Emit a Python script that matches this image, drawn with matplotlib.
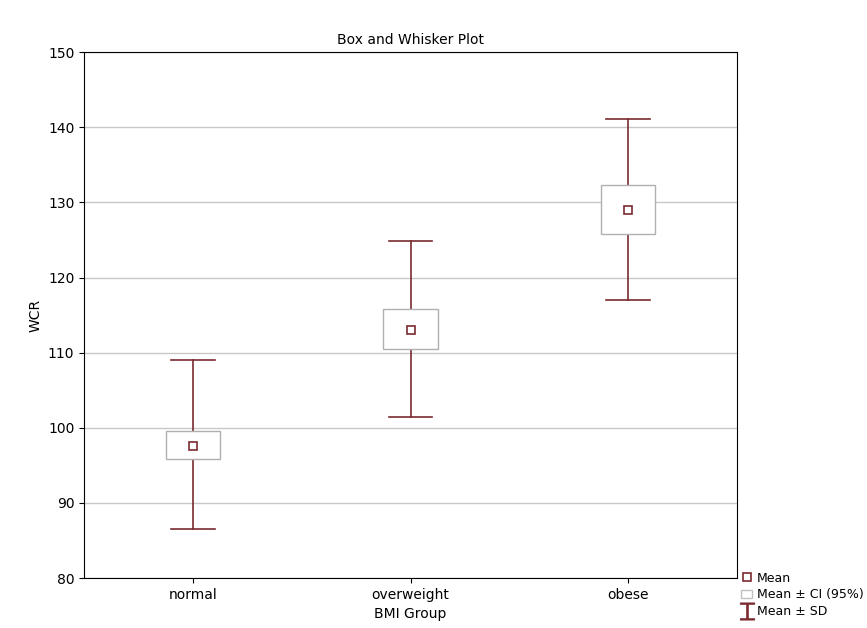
import matplotlib.pyplot as plt
from matplotlib.lines import Line2D
from matplotlib.patches import Patch

groups = ['normal', 'overweight', 'obese']
means = [97.6, 113.0, 129.0]
ci_low = [95.8, 110.5, 125.8]
ci_high = [99.6, 115.8, 132.3]
sd_low = [86.5, 101.4, 117.0]
sd_high = [109.0, 124.8, 141.1]

red = '#7a2a30'
fig = plt.figure(figsize=(8.67, 6.28), dpi=100)
ax = fig.add_axes([0.097, 0.0796, 0.753, 0.8374])

for i, g in enumerate(groups):
    x = i + 1
    ax.plot([x, x], [sd_low[i], sd_high[i]], color=red, lw=1.2, zorder=2)
    ax.plot([x - 0.1, x + 0.1], [sd_low[i]] * 2, color=red, lw=1.2, zorder=2)
    ax.plot([x - 0.1, x + 0.1], [sd_high[i]] * 2, color=red, lw=1.2, zorder=2)
    ax.add_patch(plt.Rectangle((x - 0.125, ci_low[i]), 0.25, ci_high[i] - ci_low[i],
                               facecolor='white', edgecolor='#b0b0b0', lw=1, zorder=3))
    ax.plot(x, means[i], marker='s', ms=6, mfc='white', mec=red, mew=1.2, zorder=4)

ax.set_xlim(0.5, 3.5)
ax.set_ylim(80, 150)
ax.set_xticks([1, 2, 3])
ax.set_xticklabels(groups)
ax.set_yticks(range(80, 151, 10))
ax.yaxis.grid(True, color='#c8c8c8', lw=1)
ax.set_axisbelow(True)
ax.tick_params(labelsize=10, direction='out')
ax.set_xlabel('BMI Group', fontsize=10)
ax.set_ylabel('WCR', fontsize=10)
ax.set_title('Box and Whisker Plot', fontsize=10)

handles = [Line2D([], [], marker='s', ls='', ms=6, mfc='white', mec=red, mew=1.2),
           Patch(facecolor='white', edgecolor='#c0c0c0'),
           Line2D([], [], marker='$\u2336$', ls='', ms=12, color=red)]
fig.legend(handles, ['Mean', 'Mean ± CI (95%)', 'Mean ± SD'], loc='lower left',
           bbox_to_anchor=(0.843, 0.0), frameon=False, fontsize=9,
           handlelength=0.9, handletextpad=0.35, labelspacing=0.3, borderpad=0.3)
fig.savefig('out.png')
